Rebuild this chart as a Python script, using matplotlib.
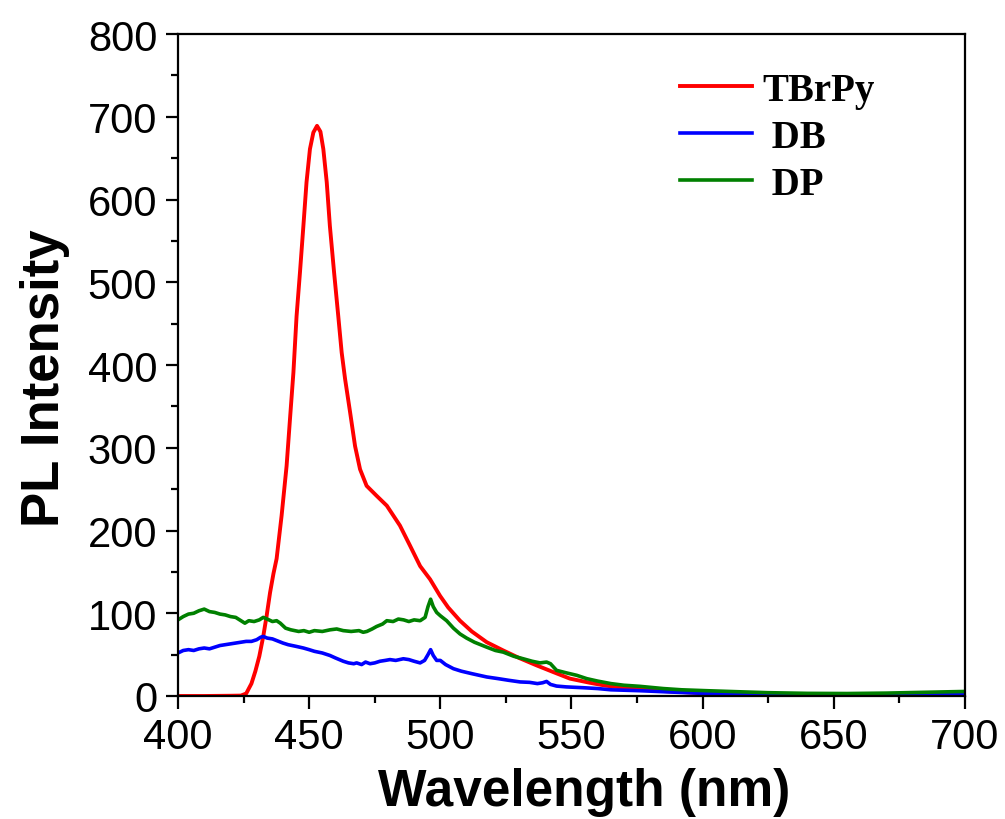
import matplotlib
matplotlib.use('Agg')
import matplotlib.pyplot as plt
from matplotlib.ticker import MultipleLocator

# PL spectra (wavelength nm, intensity)
tbrpy_wl = [400, 410, 420, 424, 426, 428, 429.5, 431, 432.5, 433.8, 435.1, 436.4,
            437.6, 439.5, 441.4, 442.7, 444, 445.2, 446.5, 447.8, 449, 450.3,
            451.6, 453, 454.3, 455.4, 456.7, 457.9, 459.5, 461.1, 462.4, 463.7,
            465.6, 467.5, 469.4, 471.9, 475.7, 479.6, 484.6, 488.4, 492.3, 496.1,
            499.9, 503, 507.5, 512, 517.7, 524, 530, 536.7, 543, 549.4, 557, 563,
            570, 576, 585, 600, 620, 650, 700]
tbrpy_int = [0, 0, 0.3, 0.5, 3, 15, 30, 48, 72, 97, 125, 148,
             166, 218, 278, 335, 391, 459, 512, 568, 621, 661,
             681, 689, 682, 661, 621, 568, 512, 459, 415, 383,
             343, 302, 274, 254, 242, 230, 206, 182, 157, 141,
             121, 107, 91, 78, 65, 55, 46, 37, 29, 21, 16, 12.5,
             10, 9, 6, 3.5, 2, 1.2, 0.8]

db_wl = [400, 402, 404, 406, 408, 410, 412, 414, 416, 418, 420, 422, 424, 426,
         428, 430, 431.5, 432.5, 434, 436, 437.6, 440, 442, 445, 447.8, 450,
         452, 455, 457.9, 460, 463, 465, 467, 468.1, 470, 471.5, 473.2, 475,
         477, 479, 480.8, 483, 485.9, 488, 490, 492.3, 494, 495.3, 496.3,
         497.3, 498.6, 500, 502, 505, 508, 512, 517.7, 522, 526, 530.4, 534,
         537, 539, 540.5, 542, 544.3, 548, 554.5, 560, 565, 576, 590, 601.6,
         620, 650, 700]
db_int = [52, 55, 56, 55, 57, 58, 57, 59, 61, 62, 63, 64, 65, 66,
          66, 68, 71, 72, 70, 69, 67, 64, 62, 60, 58, 56,
          54, 52, 49, 46, 42, 40, 39, 40, 38, 41, 39, 40,
          42, 43, 44, 43, 45, 44, 42, 40, 43, 50, 56,
          49, 43, 43, 38, 33, 30, 27, 23, 21, 19, 17, 16.5,
          15, 16, 17.6, 14, 12, 11, 10, 9, 7.5, 6.4, 4.5, 3,
          2.5, 2, 2]

dp_wl = [400, 402, 404, 406, 408, 410, 412, 414, 416, 418, 420, 422, 424, 425.5,
         427, 429, 431, 432.5, 434, 436, 437.6, 439, 441, 443, 446, 448, 450,
         452, 455, 458, 460.5, 463, 466, 469, 470.6, 472, 474, 475.7, 478,
         479.6, 482, 484, 486, 488, 490, 492.3, 494.2, 495.3, 496.3, 497.3,
         498.6, 500, 502.4, 505, 507.5, 510, 513, 517.7, 521, 524, 528, 531.6,
         535, 538, 540.5, 542, 544.3, 548, 552, 555.8, 560, 565, 570, 576, 585,
         592, 601.6, 615, 625, 640, 655, 670, 685, 700]
dp_int = [92, 96, 99, 100, 103, 105, 102, 101, 99, 98, 96, 95, 91, 88,
          91, 90, 92, 95, 93, 90, 91, 88, 82, 80, 78, 79, 77,
          79, 78, 80, 81, 79, 78, 79, 77, 78, 81, 84, 87,
          91, 90, 93, 92, 90, 92, 91, 95, 108, 117, 108,
          101, 97, 91, 82, 75, 70, 65, 59, 55, 53, 48, 45,
          42, 40, 41, 39, 31, 28, 25, 21, 18, 15, 13, 11.7, 9,
          7.5, 6.4, 5, 4, 3.2, 3, 3.5, 4.5, 5.5]

x_ticks = [400, 450, 500, 550, 600, 650, 700]
y_ticks = [0, 100, 200, 300, 400, 500, 600, 700, 800]

plt.rcParams['font.family'] = ['Liberation Sans', 'DejaVu Sans']

fig = plt.figure(figsize=(10.05, 8.2), dpi=100)
ax = fig.add_axes([0.1771, 0.15, 0.7831, 0.8073])

ax.plot(tbrpy_wl, tbrpy_int, color='#ff0000', lw=2.8, label='TBrPy')
ax.plot(db_wl, db_int, color='#0000ff', lw=2.6, label=' DB')
ax.plot(dp_wl, dp_int, color='#008000', lw=2.6, label=' DP')

ax.set_xlim(400, 700)
ax.set_ylim(0, 800)
ax.set_xticks(x_ticks)
ax.set_yticks(y_ticks)
ax.xaxis.set_minor_locator(MultipleLocator(25))
ax.yaxis.set_minor_locator(MultipleLocator(50))

for s in ax.spines.values():
    s.set_linewidth(1.6)
ax.tick_params(which='major', direction='out', length=9, width=1.6,
               labelsize=30, pad=6)
ax.tick_params(which='minor', direction='out', length=5, width=1.6)

ax.set_xlabel('Wavelength (nm)', fontsize=37, fontweight='bold')
ax.set_ylabel('PL Intensity', fontsize=38, fontweight='bold')
# labels in the reference sit a little off-centre
ax.xaxis.set_label_coords(0.516, -0.108)
ax.yaxis.set_label_coords(-0.137, 0.482)

leg = ax.legend(loc='upper left', bbox_to_anchor=(0.638, 0.943), frameon=False,
                prop={'family': 'Liberation Serif', 'weight': 'bold', 'size': 28},
                handlelength=1.85, handletextpad=0.26, labelspacing=0.26,
                borderpad=0, borderaxespad=0)

fig.savefig('out.png', dpi=100)
